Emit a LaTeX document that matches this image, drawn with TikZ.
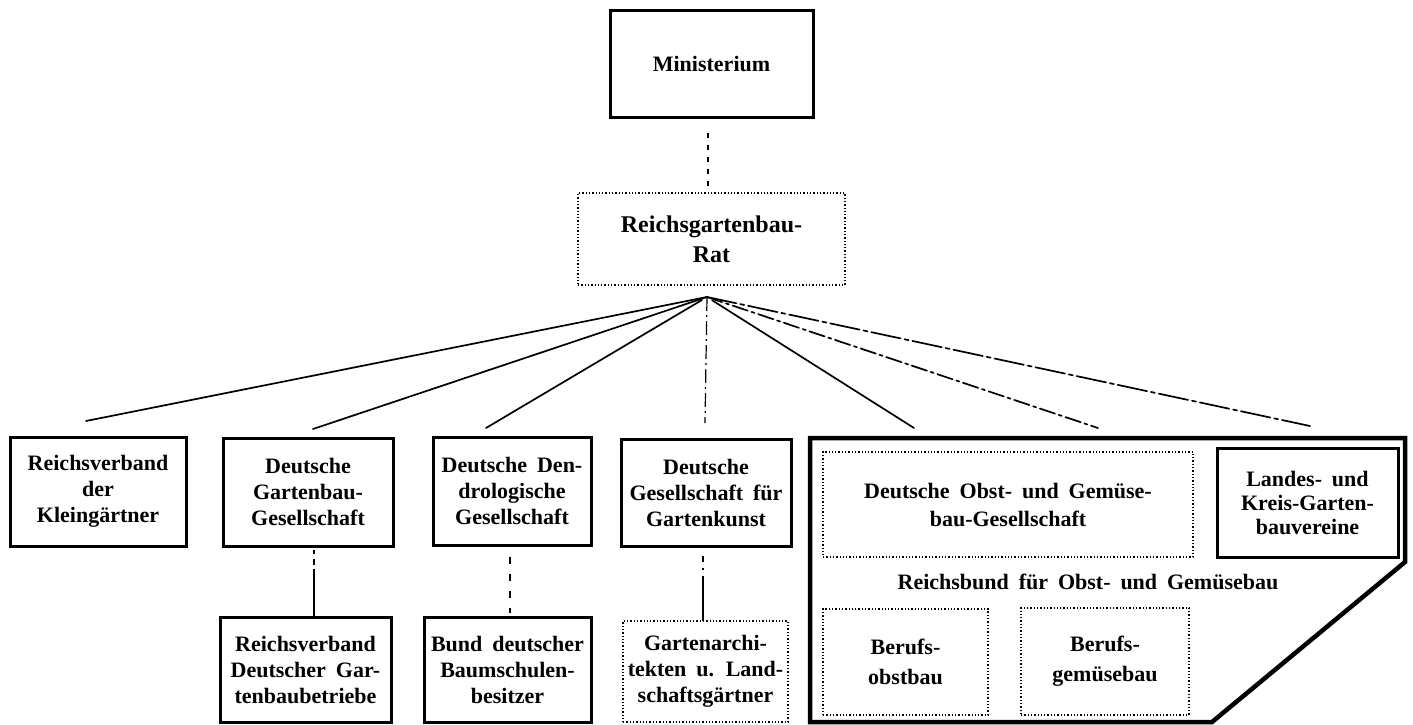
\documentclass[tikz,border=0pt]{standalone}
\usepackage{fontspec}
\setmainfont{Liberation Serif}[WordSpace=1.8]
\begin{document}
\begin{tikzpicture}[x=1pt,y=-1pt,
  txt/.style={font=\fontsize{22}{26}\selectfont\bfseries, align=center, inner sep=0pt, outer sep=0pt},
  box/.style={txt, draw, line width=3pt},
  dbox/.style={txt, draw, line width=1.3pt, dash pattern=on 1.3pt off 2pt},
  conn/.style={line width=1.7pt, line cap=round},
  vconn/.style={line width=1.2pt}
]
\useasboundingbox (0,0) rectangle (1413,724);
% top
\node[box, minimum width=203pt, minimum height=107pt] (mini) at (711.5,63.5) {Ministerium};
\node[dbox, minimum width=267pt, minimum height=92pt, font=\fontsize{24}{30}\selectfont\bfseries] (rat) at (711.5,239) {Reichsgartenbau-\\Rat};
% first row
\node[box, minimum width=176pt, minimum height=109pt] (b1) at (98,491.5) {Reichsverband\\der\\Kleingärtner};
\node[box, minimum width=170pt, minimum height=108pt] (b2) at (308,492) {Deutsche\\Gartenbau-\\Gesellschaft};
\node[box, minimum width=158pt, minimum height=108pt] (b3) at (512,491) {Deutsche Den-\\drologische\\Gesellschaft};
\node[box, minimum width=170pt, minimum height=107pt] (b4) at (706,492.5) {Deutsche\\Gesellschaft für\\Gartenkunst};
% second row
\node[box, minimum width=171pt, minimum height=105pt] (s2) at (305.5,669.5) {Reichsverband\\Deutscher Gar-\\tenbaubetriebe};
\node[box, minimum width=167pt, minimum height=105pt] (s3) at (507.5,669.5) {Bund deutscher\\Baumschulen-\\besitzer};
\node[dbox, minimum width=165pt, minimum height=101pt] (s4) at (705.5,671.5) {Gartenarchi-\\tekten u. Land-\\schaftsgärtner};
% big box
\draw[line width=4.5pt, line join=miter] (810,438) -- (1405,438) -- (1405,562) -- (1212,722) -- (810,722) -- cycle;
\node[dbox, minimum width=370pt, minimum height=105pt, font=\fontsize{22}{28}\selectfont\bfseries] (dog) at (1008,504.5) {Deutsche Obst- und Gemüse-\\bau-Gesellschaft};
\node[box, minimum width=181pt, minimum height=109pt, font=\fontsize{22}{24}\selectfont\bfseries] (landes) at (1307.5,502.5) {Landes- und\\Kreis-Garten-\\bauvereine};
\node[txt] (rb) at (1088,582) {Reichsbund für Obst- und Gemüsebau};
\node[dbox, minimum width=165pt, minimum height=106pt, font=\fontsize{22}{30}\selectfont\bfseries] (obst) at (905.5,662) {Berufs-\\obstbau};
\node[dbox, minimum width=168pt, minimum height=107pt, font=\fontsize{22}{30}\selectfont\bfseries] (gem) at (1105,661.5) {Berufs-\\gemüsebau};
% connectors
\draw[vconn, dash pattern=on 5pt off 7pt, shorten <=16pt, shorten >=3pt] ([xshift=-3.5pt]mini.south) -- ([xshift=-3.5pt]rat.north);
\coordinate (fan) at (707,297);
\coordinate (e1) at (86,421);
\coordinate (e2) at (313,429);
\coordinate (e3) at (486,428);
\coordinate (e4) at (705,423);
\coordinate (e5) at (914,428);
\coordinate (e6) at (1098,428);
\coordinate (e7) at (1310,426);
\draw[conn] (fan) -- (e1);
\draw[conn] (fan) -- (e2);
\draw[conn, shorten <=6pt] (fan) -- (e3);
\draw[vconn, dash pattern=on 14pt off 4pt on 2pt off 4pt] (fan) -- (e4);
\draw[conn, shorten <=6pt] (fan) -- (e5);
\draw[conn, dash pattern=on 16pt off 4pt on 3pt off 4pt] (fan) -- (e6);
\draw[conn, dash pattern=on 30pt off 4pt on 4pt off 4pt] (fan) -- (e7);
\draw[vconn, dash pattern=on 4pt off 5pt on 6pt off 4pt on 60pt off 0pt, shorten <=4pt] ([xshift=6pt]b2.south) -- ([xshift=6pt]b2.south |- s2.north);
\draw[vconn, dash pattern=on 7pt off 10pt, shorten <=12pt, shorten >=4pt] ([xshift=-2pt]b3.south) -- ([xshift=-2pt]b3.south |- s3.north);
\draw[vconn, dash pattern=on 6pt off 6pt on 2pt off 6pt on 50pt off 0pt, shorten <=10pt] ([xshift=-3pt]b4.south) -- ([xshift=-3pt]b4.south |- s4.north);
\end{tikzpicture}
\end{document}
